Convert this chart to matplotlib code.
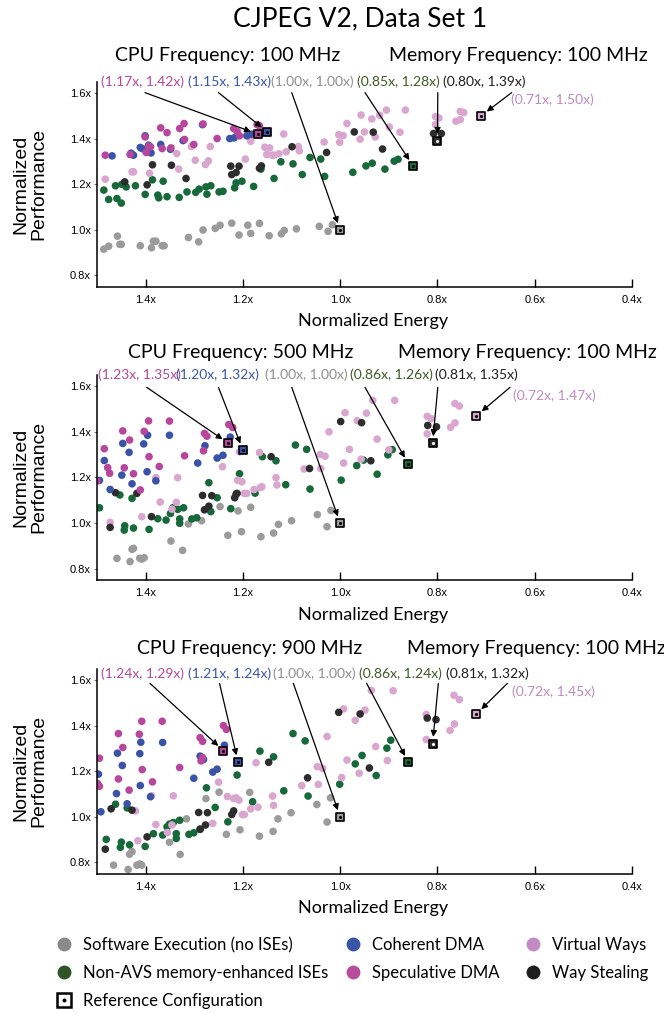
import matplotlib
matplotlib.use("Agg")
import matplotlib.pyplot as plt
from matplotlib.lines import Line2D
from matplotlib.legend_handler import HandlerTuple

# ---------------- data ----------------
groups = ["sw", "na", "vw", "ws", "cd", "sd"]
group_labels = {
    "sw": "Software Execution (no ISEs)",
    "na": "Non-AVS memory-enhanced ISEs",
    "cd": "Coherent DMA",
    "sd": "Speculative DMA",
    "vw": "Virtual Ways",
    "ws": "Way Stealing",
}
panel_titles = ["CPU Frequency: 100 MHz", "CPU Frequency: 500 MHz", "CPU Frequency: 900 MHz"]
mem_titles = ["Memory Frequency: 100 MHz"] * 3
x_ticks = [1.4, 1.2, 1.0, 0.8, 0.6, 0.4]
y_ticks = [0.8, 1.0, 1.2, 1.4, 1.6]

# Panel 1 (CPU 100 MHz)
p1_sw_x = [1.486, 1.476, 1.458, 1.453, 1.450, 1.411, 1.388, 1.384, 1.379, 1.366, 1.362, 1.312, 1.291, 1.282, 1.257, 1.247, 1.223, 1.208, 1.190, 1.184, 1.166, 1.146, 1.121, 1.115, 1.090, 1.043, 1.025, 1.016]
p1_sw_y = [0.915, 0.928, 0.972, 0.936, 0.936, 0.930, 0.921, 0.950, 0.950, 0.930, 0.930, 0.966, 0.947, 0.999, 1.006, 1.020, 1.029, 0.977, 1.020, 0.984, 1.028, 0.974, 0.982, 0.997, 1.004, 1.015, 0.993, 1.022]
p1_na_x = [1.486, 1.476, 1.462, 1.459, 1.450, 1.449, 1.440, 1.421, 1.401, 1.386, 1.375, 1.373, 1.364, 1.356, 1.331, 1.315, 1.297, 1.290, 1.276, 1.274, 1.266, 1.249, 1.241, 1.217, 1.214, 1.202, 1.178, 1.163, 1.136, 1.122, 1.097, 1.078, 1.062, 1.040, 1.032, 0.974, 0.947, 0.934, 0.908, 0.889, 0.881]
p1_na_y = [1.174, 1.133, 1.193, 1.137, 1.117, 1.199, 1.188, 1.193, 1.155, 1.219, 1.152, 1.140, 1.213, 1.145, 1.142, 1.166, 1.164, 1.178, 1.188, 1.156, 1.193, 1.166, 1.169, 1.184, 1.206, 1.213, 1.190, 1.266, 1.225, 1.298, 1.289, 1.242, 1.317, 1.310, 1.234, 1.252, 1.280, 1.292, 1.266, 1.301, 1.309]
p1_ws_x = [1.443, 1.397, 1.386, 1.347, 1.317, 1.225, 1.223, 1.214, 1.208, 1.166, 1.162, 1.099, 1.028, 0.971, 0.932, 0.913, 0.808, 0.792]
p1_ws_y = [1.210, 1.197, 1.285, 1.283, 1.225, 1.279, 1.242, 1.251, 1.279, 1.270, 1.280, 1.364, 1.339, 1.429, 1.428, 1.354, 1.422, 1.422]
p1_vw_x = [1.483, 1.428, 1.425, 1.392, 1.336, 1.332, 1.306, 1.303, 1.298, 1.277, 1.271, 1.267, 1.195, 1.184, 1.155, 1.151, 1.145, 1.140, 1.136, 1.126, 1.116, 1.111, 1.086, 1.084, 1.033, 1.003, 0.994, 1.001, 0.986, 0.957, 0.935, 0.919, 0.905, 0.866, 0.950, 0.959, 0.928, 0.899, 0.877, 0.804, 0.797, 0.804, 0.753, 0.746, 0.762, 0.753]
p1_vw_y = [1.222, 1.254, 1.254, 1.248, 1.334, 1.266, 1.365, 1.371, 1.305, 1.286, 1.302, 1.365, 1.310, 1.388, 1.362, 1.330, 1.359, 1.327, 1.327, 1.333, 1.420, 1.342, 1.365, 1.346, 1.385, 1.417, 1.413, 1.384, 1.466, 1.503, 1.486, 1.502, 1.525, 1.525, 1.429, 1.397, 1.407, 1.451, 1.428, 1.496, 1.490, 1.461, 1.519, 1.514, 1.476, 1.483]
p1_cd_x = [1.469, 1.430, 1.425, 1.411, 1.407, 1.401, 1.394, 1.389, 1.369, 1.349, 1.323, 1.283, 1.227, 1.218, 1.192, 1.182]
p1_cd_y = [1.324, 1.336, 1.327, 1.361, 1.356, 1.412, 1.371, 1.337, 1.374, 1.353, 1.391, 1.461, 1.400, 1.403, 1.412, 1.419]
p1_sd_x = [1.483, 1.432, 1.401, 1.399, 1.394, 1.390, 1.369, 1.366, 1.356, 1.348, 1.330, 1.321, 1.320, 1.301, 1.282, 1.253, 1.219, 1.212, 1.207, 1.171, 1.166]
p1_sd_y = [1.327, 1.330, 1.407, 1.339, 1.366, 1.364, 1.447, 1.356, 1.426, 1.359, 1.444, 1.466, 1.396, 1.374, 1.464, 1.400, 1.444, 1.432, 1.412, 1.461, 1.456]

# Panel 2 (CPU 500 MHz)
p2_sw_x = [1.459, 1.432, 1.428, 1.425, 1.412, 1.408, 1.403, 1.348, 1.324, 1.312, 1.285, 1.247, 1.231, 1.210, 1.203, 1.184, 1.163, 1.137, 1.127, 1.100, 1.047, 1.027, 1.019]
p2_sw_y = [0.845, 0.831, 0.885, 0.889, 0.845, 0.842, 0.848, 0.921, 0.880, 0.996, 1.010, 1.072, 0.946, 1.053, 0.962, 1.069, 0.940, 0.956, 0.994, 1.010, 1.037, 0.984, 1.055]
p2_na_x = [1.495, 1.453, 1.443, 1.444, 1.428, 1.425, 1.393, 1.375, 1.358, 1.349, 1.344, 1.334, 1.330, 1.330, 1.322, 1.305, 1.295, 1.270, 1.266, 1.253, 1.225, 1.207, 1.175, 1.160, 1.132, 1.112, 1.092, 1.069, 1.062, 0.998, 0.966, 0.952, 0.924, 0.902, 0.893]
p2_na_y = [1.067, 1.123, 0.988, 0.969, 1.108, 0.978, 0.972, 1.019, 1.013, 1.042, 1.067, 1.060, 1.018, 0.999, 1.067, 1.018, 1.023, 1.177, 1.050, 1.111, 1.063, 1.216, 1.131, 1.291, 1.273, 1.168, 1.342, 1.323, 1.149, 1.188, 1.252, 1.276, 1.214, 1.299, 1.322]
p2_ws_x = [1.473, 1.462, 1.418, 1.388, 1.283, 1.279, 1.270, 1.264, 1.217, 1.214, 1.212, 1.142, 1.063, 0.999, 0.956, 0.937, 0.820, 0.802]
p2_ws_y = [0.981, 1.133, 1.130, 1.028, 1.121, 1.058, 1.074, 1.120, 1.111, 1.127, 1.130, 1.291, 1.239, 1.445, 1.440, 1.273, 1.428, 1.422]
p2_vw_x = [1.473, 1.408, 1.379, 1.370, 1.346, 1.337, 1.334, 1.242, 1.211, 1.207, 1.202, 1.197, 1.192, 1.177, 1.164, 1.161, 1.166, 1.132, 1.130, 1.074, 1.041, 1.031, 1.023, 1.040, 0.993, 0.981, 0.957, 0.900, 0.924, 0.990, 0.946, 0.965, 0.933, 0.888, 0.821, 0.813, 0.821, 0.773, 0.764, 0.764, 0.755]
p2_vw_y = [1.003, 1.028, 1.199, 1.092, 1.061, 1.091, 1.199, 1.247, 1.188, 1.312, 1.181, 1.130, 1.130, 1.147, 1.156, 1.159, 1.309, 1.199, 1.167, 1.237, 1.301, 1.293, 1.400, 1.239, 1.263, 1.323, 1.280, 1.321, 1.368, 1.484, 1.482, 1.449, 1.538, 1.538, 1.468, 1.458, 1.391, 1.420, 1.439, 1.524, 1.513]
p2_cd_x = [1.495, 1.485, 1.473, 1.449, 1.447, 1.434, 1.428, 1.404, 1.396, 1.397, 1.379, 1.351, 1.293, 1.278, 1.253, 1.241, 1.226]
p2_cd_y = [1.187, 1.274, 1.147, 1.210, 1.349, 1.310, 1.172, 1.347, 1.385, 1.225, 1.185, 1.385, 1.263, 1.339, 1.285, 1.297, 1.377]
p2_sd_x = [1.500, 1.485, 1.478, 1.474, 1.447, 1.444, 1.433, 1.425, 1.411, 1.403, 1.394, 1.393, 1.372, 1.351, 1.320, 1.281, 1.279, 1.274, 1.229, 1.221]
p2_sd_y = [1.184, 1.326, 1.243, 1.218, 1.404, 1.242, 1.364, 1.216, 1.145, 1.402, 1.448, 1.291, 1.248, 1.447, 1.295, 1.317, 1.393, 1.381, 1.432, 1.419]

# Panel 3 (CPU 900 MHz)
p3_sw_x = [1.466, 1.436, 1.433, 1.428, 1.418, 1.412, 1.408, 1.351, 1.329, 1.316, 1.276, 1.249, 1.234, 1.206, 1.186, 1.166, 1.138, 1.128, 1.101, 1.048, 1.027, 1.020]
p3_sw_y = [0.788, 0.769, 0.836, 0.847, 0.788, 0.793, 0.788, 0.888, 0.835, 0.991, 1.080, 1.108, 0.923, 0.943, 1.107, 0.915, 0.936, 0.991, 1.018, 1.054, 0.977, 1.083]
p3_na_x = [1.481, 1.462, 1.452, 1.450, 1.438, 1.433, 1.401, 1.384, 1.365, 1.356, 1.351, 1.343, 1.337, 1.337, 1.330, 1.311, 1.301, 1.288, 1.275, 1.257, 1.231, 1.212, 1.180, 1.165, 1.137, 1.116, 1.097, 1.072, 1.066, 1.001, 0.969, 0.955, 0.926, 0.904, 0.896]
p3_na_y = [0.901, 1.055, 0.866, 0.889, 1.039, 0.877, 0.870, 0.926, 0.920, 0.956, 0.968, 0.975, 0.926, 0.905, 0.985, 0.923, 0.930, 0.945, 1.127, 1.041, 0.978, 1.183, 1.066, 1.288, 1.263, 1.114, 1.365, 1.333, 1.091, 1.143, 1.232, 1.269, 1.181, 1.301, 1.336]
p3_ws_x = [1.483, 1.471, 1.428, 1.397, 1.291, 1.288, 1.277, 1.273, 1.223, 1.219, 1.147, 1.067, 1.003, 0.959, 0.940, 0.821, 0.803]
p3_ws_y = [0.858, 1.035, 1.029, 0.912, 1.019, 0.946, 0.964, 1.018, 1.010, 1.026, 1.239, 1.171, 1.458, 1.451, 1.214, 1.433, 1.426]
p3_vw_x = [1.421, 1.416, 1.388, 1.379, 1.355, 1.346, 1.343, 1.262, 1.250, 1.232, 1.219, 1.214, 1.208, 1.201, 1.197, 1.184, 1.169, 1.173, 1.139, 1.137, 1.079, 1.047, 1.036, 1.045, 1.027, 0.997, 0.986, 0.961, 0.927, 0.903, 0.993, 0.969, 0.949, 0.936, 0.891, 0.823, 0.823, 0.774, 0.765, 0.766, 0.755]
p3_vw_y = [1.026, 0.895, 1.092, 0.966, 0.931, 0.964, 1.092, 0.971, 1.152, 1.089, 1.080, 1.083, 1.073, 1.010, 1.010, 1.035, 1.042, 1.237, 1.091, 1.050, 1.137, 1.220, 1.212, 1.142, 1.352, 1.172, 1.249, 1.191, 1.308, 1.247, 1.473, 1.423, 1.468, 1.554, 1.553, 1.449, 1.339, 1.379, 1.407, 1.533, 1.514]
p3_cd_x = [1.497, 1.492, 1.460, 1.458, 1.448, 1.438, 1.412, 1.411, 1.410, 1.390, 1.365, 1.301, 1.288, 1.281, 1.262, 1.253, 1.238]
p3_cd_y = [1.187, 1.022, 1.102, 1.279, 1.225, 1.057, 1.277, 1.137, 1.327, 1.088, 1.326, 1.169, 1.266, 1.251, 1.196, 1.209, 1.314]
p3_sd_x = [1.499, 1.495, 1.495, 1.456, 1.456, 1.447, 1.434, 1.413, 1.408, 1.407, 1.386, 1.366, 1.330, 1.288, 1.283, 1.286, 1.283, 1.240, 1.234]
p3_sd_y = [1.146, 1.257, 1.134, 1.365, 1.166, 1.304, 1.117, 1.362, 1.419, 1.207, 1.153, 1.419, 1.216, 1.347, 1.331, 1.245, 1.260, 1.400, 1.383]

# Reference configurations (energy, performance) per panel, order: sd, cd, sw, na, ws, vw
ref_order = ["sd", "cd", "sw", "na", "ws", "vw"]
p1_ref_x = [1.17, 1.15, 1.00, 0.85, 0.80, 0.71]
p1_ref_y = [1.42, 1.43, 1.00, 1.28, 1.39, 1.50]
p2_ref_x = [1.23, 1.20, 1.00, 0.86, 0.81, 0.72]
p2_ref_y = [1.35, 1.32, 1.00, 1.26, 1.35, 1.47]
p3_ref_x = [1.24, 1.21, 1.00, 0.86, 0.81, 0.72]
p3_ref_y = [1.29, 1.24, 1.00, 1.24, 1.32, 1.45]

# ---------------- styles ----------------
dot_colors = {"sw": "#9b9b9b", "na": "#17693a", "vw": "#d9a6d0", "ws": "#2d2d2d", "cd": "#3a53a6", "sd": "#b8469c"}
leg_colors = {"sw": "#8a8a8a", "na": "#2f5426", "vw": "#c38ac4", "ws": "#1e1e1e", "cd": "#3b55a6", "sd": "#b84d9e"}
txt_colors = {"sd": "#b5489b", "cd": "#3b55a8", "sw": "#8f8f8f", "na": "#3e5a25", "ws": "#1e1e1e", "vw": "#bd8cc2"}

panels = [
    ({"sw": (p1_sw_x, p1_sw_y), "na": (p1_na_x, p1_na_y), "vw": (p1_vw_x, p1_vw_y),
      "ws": (p1_ws_x, p1_ws_y), "cd": (p1_cd_x, p1_cd_y), "sd": (p1_sd_x, p1_sd_y)},
     p1_ref_x, p1_ref_y),
    ({"sw": (p2_sw_x, p2_sw_y), "na": (p2_na_x, p2_na_y), "vw": (p2_vw_x, p2_vw_y),
      "ws": (p2_ws_x, p2_ws_y), "cd": (p2_cd_x, p2_cd_y), "sd": (p2_sd_x, p2_sd_y)},
     p2_ref_x, p2_ref_y),
    ({"sw": (p3_sw_x, p3_sw_y), "na": (p3_na_x, p3_na_y), "vw": (p3_vw_x, p3_vw_y),
      "ws": (p3_ws_x, p3_ws_y), "cd": (p3_cd_x, p3_cd_y), "sd": (p3_sd_x, p3_sd_y)},
     p3_ref_x, p3_ref_y),
]

# layout (axes fractions)
ax_bottoms = [0.7169, 0.4274, 0.1374]
label_fx = [
    [0.0856, 0.248, 0.403, 0.564, 0.723, 0.851],
    [0.0794, 0.226, 0.391, 0.551, 0.710, 0.854],
    [0.0856, 0.247, 0.406, 0.568, 0.729, 0.854],
]
label_fy = [1.0, 1.0, 0.975]
label_fy_vw = [0.910, 0.897, 0.885]
arrow_fx = [
    [0.0897, 0.227, 0.364, 0.501, 0.637, 0.775],
    [0.0929, 0.227, 0.364, 0.501, 0.637, 0.772],
    [0.099, 0.229, 0.367, 0.504, 0.638, 0.767],
]
arrow_fy = [0.946, 0.939, 0.928]
sub_cpu_fx = [0.245, 0.269, 0.286]
sub_mem_fx = [0.787, 0.804, 0.821]
sub_fy = [1.125, 1.111, 1.096]

FONT = ["Lato", "DejaVu Sans"]
TICKFONT = ["Liberation Sans", "DejaVu Sans"]

fig = plt.figure(figsize=(6.64, 10.13), dpi=100)
fig.text(0.542, 1 - 19 / 1013, "CJPEG V2, Data Set 1", ha="center", va="center",
         fontsize=19, family=FONT)

for i, (data, rx, ry) in enumerate(panels):
    ax = fig.add_axes([0.1461, ax_bottoms[i], 0.8057, 0.2026])
    for g in groups:
        xs, ys = data[g]
        ax.scatter(xs, ys, s=30, color=dot_colors[g], edgecolors="none", zorder=2)
    for k, g in enumerate(ref_order):
        ax.scatter([rx[k]], [ry[k]], s=40, marker="s", facecolor=dot_colors[g],
                   edgecolor="black", linewidth=1.2, zorder=4)
        ax.scatter([rx[k]], [ry[k]], s=1.5, marker="o",
                   color="white" if g == "ws" else "black", zorder=5)
        lbl = f"({rx[k]:.2f}x, {ry[k]:.2f}x)"
        ty = label_fy_vw[i] if g == "vw" else label_fy[i]
        ax.text(label_fx[i][k], ty, lbl, transform=ax.transAxes, ha="center", va="center",
                fontsize=10, color=txt_colors[g], family=FONT, clip_on=False)
        ax.annotate("", xy=(rx[k], ry[k]), xycoords="data",
                    xytext=(arrow_fx[i][k], arrow_fy[i]), textcoords="axes fraction",
                    arrowprops=dict(arrowstyle="-|>", color="black", lw=0.9,
                                    shrinkA=0, shrinkB=5, mutation_scale=9),
                    annotation_clip=False, zorder=6)

    ax.set_xlim(1.5, 0.4)
    ax.set_ylim(0.75, 1.65)
    ax.set_xticks(x_ticks)
    ax.set_xticklabels([f"{v:.1f}x" for v in x_ticks], family=TICKFONT)
    ax.set_yticks(y_ticks)
    ax.set_yticklabels([f"{v:.1f}x" for v in y_ticks], family=TICKFONT)
    for s in ["top", "right"]:
        ax.spines[s].set_visible(False)
    for s in ["left", "bottom"]:
        ax.spines[s].set_linewidth(1.1)
    ax.tick_params(axis="y", direction="out", length=2.5, width=0.8, color="#777777",
                   labelsize=8, pad=2)
    ax.tick_params(axis="x", direction="in", length=6, width=1.0, color="black",
                   labelsize=8, pad=6)
    ax.set_xlabel("Normalized Energy", fontsize=13, family=FONT)
    ax.xaxis.set_label_coords(0.516, -0.13)
    ax.set_ylabel("Normalized\nPerformance", fontsize=14, family=TICKFONT, linespacing=1.1)
    ax.yaxis.set_label_coords(-0.093, 0.5)
    ax.text(sub_cpu_fx[i], sub_fy[i], panel_titles[i], transform=ax.transAxes,
            ha="center", va="center", fontsize=14, family=FONT)
    ax.text(sub_mem_fx[i], sub_fy[i], mem_titles[i], transform=ax.transAxes,
            ha="center", va="center", fontsize=14, family=FONT)

# ---------------- legend ----------------
def dot_handle(g):
    return Line2D([], [], marker="o", ls="", markersize=10, markerfacecolor=leg_colors[g],
                  markeredgecolor="none")

ref_handle = (Line2D([], [], marker="s", ls="", markersize=10, markerfacecolor="white",
                     markeredgecolor="black", markeredgewidth=1.8),
              Line2D([], [], marker="o", ls="", markersize=1.8, markerfacecolor="black",
                     markeredgecolor="black"))

cols = [
    ([dot_handle("sw"), dot_handle("na"), ref_handle],
     [group_labels["sw"], group_labels["na"], "Reference Configuration"], 0.0839),
    ([dot_handle("cd"), dot_handle("sd")], [group_labels["cd"], group_labels["sd"]], 0.519),
    ([dot_handle("vw"), dot_handle("ws")], [group_labels["vw"], group_labels["ws"]], 0.790),
]
for handles, labels, x0 in cols:
    fig.legend(handles, labels, loc="upper left", bbox_to_anchor=(x0, 0.075),
               frameon=False, borderpad=0, borderaxespad=0, handlelength=1.0,
               handletextpad=0.62, labelspacing=0.72, prop={"family": FONT, "size": 12},
               handler_map={tuple: HandlerTuple(ndivide=1, pad=0)})

fig.savefig("out.png", dpi=100)
